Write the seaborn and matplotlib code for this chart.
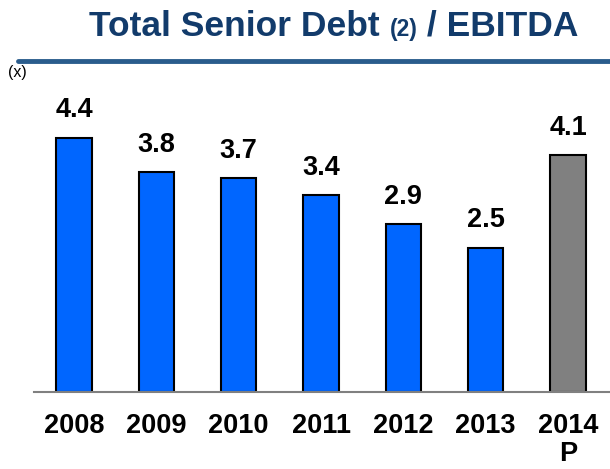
import matplotlib
matplotlib.use("Agg")
import matplotlib.pyplot as plt
import seaborn as sns
import pandas as pd

years = ["2008", "2009", "2010", "2011", "2012", "2013", "2014\nP"]
ratios = [4.4, 3.8, 3.7, 3.4, 2.9, 2.5, 4.1]
kinds = ["Actual"] * 6 + ["Projected"]

df = pd.DataFrame({"year": years, "ratio": ratios, "kind": kinds})

sns.set_theme(style="white")
plt.rcParams["font.family"] = ["Liberation Sans", "DejaVu Sans"]

W, H = 610, 469
fig = plt.figure(figsize=(W / 100, H / 100), dpi=100)

# axes placed in pixel terms: baseline at y=392, top at y=103
ax_left, ax_right = 34, 610
ax_bottom, ax_top = 392, 103
ax = fig.add_axes([ax_left / W, 1 - ax_bottom / H,
                   (ax_right - ax_left) / W, (ax_bottom - ax_top) / H])

palette = {"Actual": "#0066FF", "Projected": "#808080"}
sns.barplot(data=df, x="year", y="ratio", hue="kind", palette=palette,
            dodge=False, width=0.43, edgecolor="black", linewidth=1.5,
            saturation=1, legend=False, ax=ax)

ax.set_xlim(-0.486, 6.51)
ax.set_ylim(0, 5.0)

for i, v in enumerate(ratios):
    ax.text(i, v + 0.25, f"{v:.1f}", ha="center", va="bottom",
            fontsize=19.5, fontweight="bold", color="black")

ax.set_xlabel("")
ax.set_ylabel("")
ax.set_yticks([])
ax.tick_params(axis="x", length=0, pad=15)
for lbl in ax.get_xticklabels():
    lbl.set_fontsize(19.5)
    lbl.set_fontweight("bold")
    lbl.set_color("black")
    lbl.set_linespacing(1.1)

for s in ["top", "left", "right"]:
    ax.spines[s].set_visible(False)
ax.spines["bottom"].set_color("#808080")
ax.spines["bottom"].set_linewidth(1.5)

# title built from three pieces sharing one baseline, the footnote marker smaller
title_color = "#123B6B"
ty = 1 - 36 / H
r = fig.canvas.get_renderer()
t1 = fig.text(0, ty, "Total Senior Debt ", ha="left", va="baseline",
              fontsize=25.5, fontweight="bold", color=title_color)
bb1 = t1.get_window_extent(r)
t2 = fig.text(bb1.x1 / W, ty, "(2)", ha="left", va="baseline",
              fontsize=16.5, fontweight="bold", color=title_color)
bb2 = t2.get_window_extent(r)
t3 = fig.text(bb2.x1 / W, ty, " / EBITDA", ha="left", va="baseline",
              fontsize=25.5, fontweight="bold", color=title_color)
bb3 = t3.get_window_extent(r)
total = bb3.x1 - bb1.x0
shift = (334 - total / 2) / W
for t in (t1, t2, t3):
    x, y = t.get_position()
    t.set_position((x + shift, y))

# rule under the title
fig.add_artist(plt.Line2D([18 / W, 1.0], [1 - 61 / H, 1 - 61 / H],
                          color="#2A5C8C", linewidth=3.5,
                          transform=fig.transFigure))
fig.text(8 / W, 1 - 72 / H, "(x)", ha="left", va="center",
         fontsize=11.5, color="black")

fig.savefig("out.png", dpi=100)
